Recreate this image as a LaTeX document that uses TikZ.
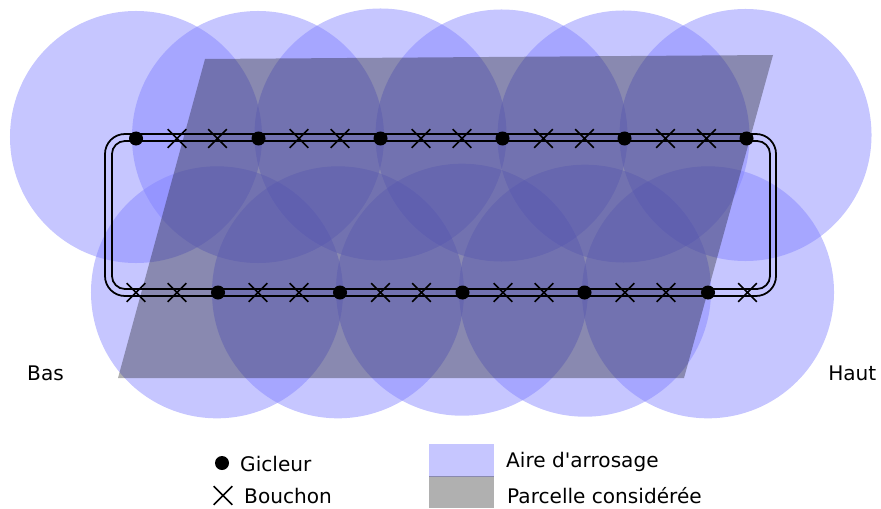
\documentclass[tikz,border=0pt]{standalone}
\usepackage{fontspec}
\setmainfont{DejaVu Sans}
\usetikzlibrary{shapes.misc}
\definecolor{aireblue}{HTML}{8080FF}
\tikzset{
  aire/.style={circle, fill=aireblue, fill opacity=0.45, minimum size=7.56cm, inner sep=0pt},
  parcelle/.style={fill=black, fill opacity=0.31},
  gicleur/.style={circle, fill=black, minimum size=0.42cm, inner sep=0pt},
  bouchon/.style={cross out, draw=black, line width=1.4pt, minimum size=0.51cm, inner sep=0pt},
  tuyau/.style={rectangle, draw=black, line width=1.5pt, inner sep=0pt},
  legende/.style={anchor=base west, inner sep=0pt, font=\fontsize{17.15}{20}\selectfont},
}

\begin{document}
\begin{tikzpicture}[x=0.03cm, y=-0.03cm]
    \useasboundingbox (0,0) rectangle (881,508);

    % aires d'arrosage, rangee du haut
    \node[aire] (A1) at (136, 137) {};
    \node[aire] (A2) at (258, 137) {};
    \node[aire] (A3) at (380.5, 134.5) {};
    \node[aire] (A4) at (501.5, 135.5) {};
    \node[aire] (A5) at (623.5, 136.5) {};
    \node[aire] (A6) at (745.5, 135) {};
    % aires d'arrosage, rangee du bas
    \node[aire] (B1) at (217, 292.3) {};
    \node[aire] (B2) at (338, 292.3) {};
    \node[aire] (B3) at (462, 289.7) {};
    \node[aire] (B4) at (585, 290.7) {};
    \node[aire] (B5) at (708, 292.3) {};

    % parcelle
    \coordinate (P1) at (205, 59);
    \coordinate (P2) at (773, 55);
    \coordinate (P3) at (684, 378);
    \coordinate (P4) at (118, 378);
    \fill[parcelle] (P1) -- (P2) -- (P3) -- (P4) -- cycle;

    % tuyaux
    \node[tuyau, rounded corners=0.6cm, minimum width=20.13cm, minimum height=4.86cm] (outer) at (440.5, 215) {};
    \node[tuyau, rounded corners=0.39cm, minimum width=19.74cm, minimum height=4.44cm] (inner) at (441, 215) {};

    % gicleurs du haut
    \node[gicleur] (G1) at (136, 138.5) {};
    \node[gicleur] (G2) at (258.5, 138.5) {};
    \node[gicleur] (G3) at (380.5, 138.5) {};
    \node[gicleur] (G4) at (502.5, 138.5) {};
    \node[gicleur] (G5) at (624.5, 138.5) {};
    \node[gicleur] (G6) at (746.5, 138.5) {};
    % gicleurs du bas
    \node[gicleur] (G7) at (218, 292.5) {};
    \node[gicleur] (G8) at (340, 292.5) {};
    \node[gicleur] (G9) at (462.5, 292.5) {};
    \node[gicleur] (G10) at (584.5, 292.5) {};
    \node[gicleur] (G11) at (708, 292.5) {};

    % bouchons du haut
    \node[bouchon] (C1) at (177, 138.5) {};
    \node[bouchon] (C2) at (217.5, 138.5) {};
    \node[bouchon] (C3) at (299, 138.5) {};
    \node[bouchon] (C4) at (340, 138.5) {};
    \node[bouchon] (C5) at (421, 138.5) {};
    \node[bouchon] (C6) at (462, 138.5) {};
    \node[bouchon] (C7) at (543.5, 138.5) {};
    \node[bouchon] (C8) at (584.5, 138.5) {};
    \node[bouchon] (C9) at (665.5, 138.5) {};
    \node[bouchon] (C10) at (706.5, 138.5) {};
    % bouchons du bas
    \node[bouchon] (D1) at (136, 292.5) {};
    \node[bouchon] (D2) at (177, 292.5) {};
    \node[bouchon] (D3) at (258, 292.5) {};
    \node[bouchon] (D4) at (299, 292.5) {};
    \node[bouchon] (D5) at (380.5, 292.5) {};
    \node[bouchon] (D6) at (421.5, 292.5) {};
    \node[bouchon] (D7) at (503, 292.5) {};
    \node[bouchon] (D8) at (544, 292.5) {};
    \node[bouchon] (D9) at (625, 292.5) {};
    \node[bouchon] (D10) at (666, 292.5) {};
    \node[bouchon] (D11) at (747.5, 292.5) {};

    \node[legende] (bas) at (27, 380) {Bas};
    \node[legende] (haut) at (828, 380) {Haut};

    % legende
    \node[gicleur] (legG) at (222, 463) {};
    \node[bouchon] (legC) at (223, 495.5) {};
    \node[legende] (legGt) at (240, 471) {Gicleur};
    \node[legende] (legCt) at (244, 503) {Bouchon};
    \fill[aireblue, fill opacity=0.45] (429, 444) rectangle (494, 476.6);
    \fill[parcelle] (429, 476) rectangle (494, 508);
    \node[legende] (legAt) at (506, 467) {Aire d\textquotesingle arrosage};
    \node[legende] (legPt) at (507, 503) {Parcelle considérée};
\end{tikzpicture}
\end{document}
